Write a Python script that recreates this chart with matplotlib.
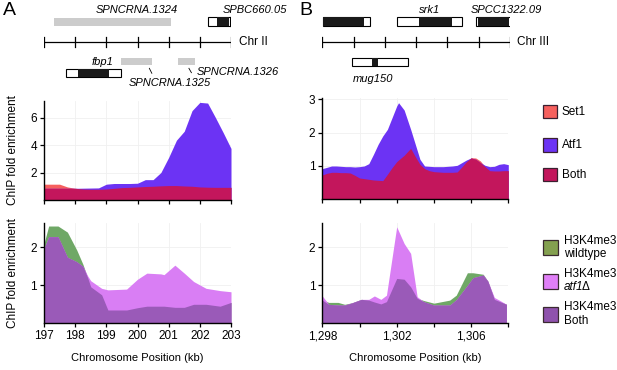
import numpy as np
import matplotlib.pyplot as plt
from matplotlib.patches import Rectangle

plt.rcParams['font.family'] = ['Liberation Sans', 'DejaVu Sans']
plt.rcParams['font.size'] = 8

# ---- datos: panel A (Chr II, kb) ----
xa_top = [197.0, 197.25, 197.5, 197.75, 198.0, 198.25, 198.5, 198.75, 199.0, 199.25,
          199.5, 199.75, 200.0, 200.25, 200.5, 200.75, 201.0, 201.25, 201.5, 201.75,
          202.0, 202.25, 202.5, 202.75, 203.0]
a_set1 = [1.15, 1.15, 1.15, 0.95, 0.85, 0.8, 0.78, 0.78, 0.8, 0.85,
          0.9, 0.92, 0.95, 0.98, 1.0, 1.03, 1.05, 1.05, 1.02, 1.0,
          0.95, 0.93, 0.92, 0.92, 0.92]
a_atf1 = [0.85, 0.85, 0.85, 0.85, 0.85, 0.86, 0.87, 0.88, 1.15, 1.2,
          1.2, 1.2, 1.22, 1.48, 1.48, 2.0, 3.1, 4.35, 5.0, 6.5,
          7.1, 7.05, 6.0, 4.9, 3.75]

xa_bot = [197.0, 197.15, 197.45, 197.75, 198.05, 198.25, 198.4, 198.5, 198.85, 199.05,
          199.65, 200.0, 200.3, 200.75, 200.85, 201.2, 201.5, 201.8, 202.2, 202.65, 203.0]
a_wt = [2.1, 2.56, 2.56, 2.4, 1.93, 1.55, 1.2, 0.96, 0.75, 0.35,
        0.35, 0.41, 0.45, 0.45, 0.45, 0.42, 0.42, 0.5, 0.5, 0.45, 0.55]
a_atf1d = [1.97, 2.28, 2.28, 1.74, 1.62, 1.5, 1.25, 1.12, 0.92, 0.88,
           0.9, 1.16, 1.32, 1.3, 1.28, 1.53, 1.32, 1.1, 0.92, 0.86, 0.83]

# ---- datos: panel B (Chr III, kb) ----
xb_top = [1298.0, 1298.25, 1298.5, 1298.75, 1299.0, 1299.25, 1299.5, 1299.75, 1300.0, 1300.25,
          1300.5, 1300.75, 1301.0, 1301.25, 1301.5, 1301.75, 1302.0, 1302.1, 1302.4, 1302.75,
          1303.0, 1303.25, 1303.5, 1303.75, 1304.0, 1304.5, 1305.0, 1305.25, 1305.5, 1305.75,
          1306.0, 1306.25, 1306.5, 1306.75, 1307.0, 1307.25, 1307.5, 1307.75, 1308.0]
b_set1 = [0.73, 0.78, 0.81, 0.81, 0.8, 0.8, 0.79, 0.72, 0.64, 0.62,
          0.6, 0.58, 0.57, 0.56, 0.75, 0.95, 1.13, 1.18, 1.32, 1.53,
          1.28, 1.05, 0.92, 0.86, 0.83, 0.81, 0.81, 0.82, 0.97, 1.13,
          1.25, 1.24, 1.15, 0.98, 0.86, 0.85, 0.85, 0.86, 0.86]
b_atf1 = [0.92, 0.96, 1.0, 1.0, 0.99, 0.98, 0.98, 0.97, 0.98, 1.0,
          1.07, 1.35, 1.65, 1.9, 2.1, 2.45, 2.8, 2.9, 2.68, 2.1,
          1.65, 1.2, 1.0, 0.99, 0.98, 0.98, 1.0, 1.02, 1.1, 1.18,
          1.24, 1.2, 1.1, 1.02, 0.98, 0.99, 1.05, 1.07, 1.04]

xb_bot = [1298.0, 1298.35, 1298.85, 1299.2, 1299.6, 1300.1, 1300.5, 1300.8, 1301.15, 1301.45,
          1302.0, 1302.4, 1302.75, 1303.1, 1303.45, 1304.0, 1304.85, 1305.2, 1305.8, 1306.1,
          1306.65, 1306.9, 1307.25, 1307.55, 1307.9]
b_wt = [0.61, 0.55, 0.55, 0.5, 0.54, 0.63, 0.61, 0.56, 0.51, 0.57,
        1.18, 1.16, 0.96, 0.66, 0.6, 0.53, 0.61, 0.74, 1.33, 1.33,
        1.29, 1.11, 0.63, 0.57, 0.5]
b_atf1d = [0.72, 0.5, 0.48, 0.48, 0.54, 0.63, 0.63, 0.72, 0.63, 0.74,
           2.54, 2.1, 1.84, 0.7, 0.57, 0.48, 0.48, 0.62, 1.0, 1.2,
           1.27, 1.11, 0.68, 0.6, 0.5]

# ---- genes (inicio, fin, inicio CDS, fin CDS) ----
a_gray_top = (197.33, 201.06)              # SPNCRNA.1324
a_spbc = (202.26, 203.03, 202.55, 202.93)
a_fbp1 = (197.71, 199.46, 198.08, 199.09)
a_ncrna_1325 = (199.46, 200.46)
a_ncrna_1326 = (201.29, 201.84)
b_gene1 = (0.03, 1.53, 0.03, 1.32)
b_srk1 = (2.38, 4.47, 3.09, 4.14)
b_spcc = (4.90, 6.06, 4.98, 5.98)
b_mug150 = (0.94, 2.75, 1.60, 1.78)

c_set1, c_atf1, c_both = '#f6605e', '#6c33f4', '#c3165c'
c_wt, c_atf1d, c_both2 = '#6fa866', '#d97ef4', '#9a5ab8'

W, H = 617, 370
fig = plt.figure(figsize=(W / 100, H / 100), dpi=100)

def caja(l, t, r, b):
    return [l / W, 1 - b / H, (r - l) / W, (b - t) / H]

def estilo(ax, xlim, ylim, yt, xt, xtl=None):
    ax.set_xlim(*xlim)
    ax.set_ylim(*ylim)
    for s in ['top', 'right']:
        ax.spines[s].set_visible(False)
    for s in ['left', 'bottom']:
        ax.spines[s].set_linewidth(1.0)
    ax.set_yticks(yt)
    ax.set_xticks(xt)
    if xtl is None:
        ax.set_xticklabels([])
    else:
        ax.set_xticklabels(xtl)
    ax.tick_params(direction='out', length=3, width=0.9, labelsize=8.5, pad=2)
    ax.grid(color='#f0f0f0', lw=0.6)
    ax.set_axisbelow(True)

def areas(ax, x, s1, s2, c1, c2, c3):
    x = np.array(x)
    s1 = np.array(s1)
    s2 = np.array(s2)
    ax.fill_between(x, 0, s1, color=c1, lw=0)
    ax.fill_between(x, 0, s2, color=c2, lw=0)
    ax.fill_between(x, 0, np.minimum(s1, s2), color=c3, lw=0)

# A arriba
ax1 = fig.add_axes(caja(44, 101, 231, 200))
areas(ax1, xa_top, a_set1, a_atf1, c_set1, c_atf1, c_both)
estilo(ax1, (197, 203), (0, 7.2), [2, 4, 6], range(197, 204))

# A abajo
ax2 = fig.add_axes(caja(44, 222.6, 231, 323.3))
areas(ax2, xa_bot, a_wt, a_atf1d, c_wt, c_atf1d, c_both2)
estilo(ax2, (197, 203), (0, 2.65), [1, 2], range(197, 204), [str(v) for v in range(197, 204)])

# B arriba
ax3 = fig.add_axes(caja(322.3, 97.7, 508.3, 199.3))
areas(ax3, xb_top, b_set1, b_atf1, c_set1, c_atf1, c_both)
estilo(ax3, (1298, 1307.9), (0, 3.05), [1, 2, 3], range(1298, 1309, 2))

# B abajo
ax4 = fig.add_axes(caja(322.3, 222.6, 508.3, 323.3))
areas(ax4, xb_bot, b_wt, b_atf1d, c_wt, c_atf1d, c_both2)
estilo(ax4, (1298, 1307.9), (0, 2.65), [1, 2], range(1298, 1309, 2),
       ['1,298', '', '1,302', '', '1,306', ''])

for ax in [ax2, ax4]:
    ax.set_xlabel('Chromosome Position (kb)', fontsize=8, labelpad=8)

fig.text(13.5 / W, 1 - 150 / H, 'ChIP fold enrichment', rotation=90, ha='center', va='center', fontsize=8.5)
fig.text(13.5 / W, 1 - 273 / H, 'ChIP fold enrichment', rotation=90, ha='center', va='center', fontsize=8.5)
fig.text(3 / W, 1 - 2 / H, 'A', fontsize=14, va='top')
fig.text(299 / W, 1 - 2 / H, 'B', fontsize=14, va='top')

# ---- diagramas de genes ----
def gen(ax, g, y, h):
    ax.add_patch(Rectangle((g[0], y - h / 2), g[1] - g[0], h, fc='white', ec='black', lw=0.8))
    ax.add_patch(Rectangle((g[2], y - h / 2), g[3] - g[2], h, fc='#1a1a1a', ec='none'))

def cromosoma(ax, x0, x1, nombre, xt):
    ax.plot([x0, x1], [42, 42], color='black', lw=0.9)
    for v in np.linspace(x0, x1, 7):
        ax.plot([v, v], [37, 47], color='black', lw=0.9)
    ax.text(xt, 42, nombre, ha='left', va='center', fontsize=8.5)

ga = fig.add_axes(caja(44, 0, 231, 90))
ga.set_xlim(197, 203)
ga.set_ylim(90, 0)
ga.axis('off')
cromosoma(ga, 197, 203, 'Chr II', 203.25)
ga.add_patch(Rectangle((a_gray_top[0], 18.3), a_gray_top[1] - a_gray_top[0], 7.4, fc='#cccccc', ec='none'))
ga.text(199.98, 10, 'SPNCRNA.1324', style='italic', ha='center', va='center', fontsize=8)
gen(ga, a_spbc, 21.5, 8.4)
ga.plot([202.98, 202.98], [17.3, 25.7], color='black', lw=0.8)
ga.text(202.73, 10, 'SPBC660.05', style='italic', ha='left', va='center', fontsize=8)
gen(ga, a_fbp1, 73.2, 8.3)
ga.text(198.89, 62, 'fbp1', style='italic', ha='center', va='center', fontsize=8)
for g in [a_ncrna_1325, a_ncrna_1326]:
    ga.add_patch(Rectangle((g[0], 58.3), g[1] - g[0], 6.7, fc='#cccccc', ec='none'))
ga.plot([200.38, 200.46], [68.3, 73.3], color='black', lw=0.6)
ga.plot([201.65, 201.73], [68.3, 72.7], color='black', lw=0.6)
ga.text(201.03, 82.7, 'SPNCRNA.1325', style='italic', ha='center', va='center', fontsize=8)
ga.text(201.91, 71.7, 'SPNCRNA.1326', style='italic', ha='left', va='center', fontsize=8)

gb = fig.add_axes(caja(322.3, 0, 510, 90))
gb.set_xlim(0, 6)
gb.set_ylim(90, 0)
gb.axis('off')
cromosoma(gb, 0, 6, 'Chr III', 6.21)
gen(gb, b_gene1, 21.5, 8.4)
gen(gb, b_srk1, 21.5, 8.4)
gen(gb, b_spcc, 21.5, 8.4)
gb.plot([6.0, 6.0], [17.3, 25.7], color='white', lw=0.6)
gb.text(3.44, 10, 'srk1', style='italic', ha='center', va='center', fontsize=8)
gb.text(5.90, 10, 'SPCC1322.09', style='italic', ha='center', va='center', fontsize=8)
gen(gb, b_mug150, 61.7, 8.0)
gb.text(1.63, 79.3, 'mug150', style='italic', ha='center', va='center', fontsize=8)

# ---- leyendas ----
lg = fig.add_axes([0, 0, 1, 1])
lg.set_xlim(0, W)
lg.set_ylim(H, 0)
lg.axis('off')
ley_top = [('Set1', c_set1, 111.7), ('Atf1', c_atf1, 145), ('Both', c_both, 174.5)]
for nombre, c, y in ley_top:
    lg.add_patch(Rectangle((542.5, y - 6.7), 14, 13.4, fc=c, ec='#3a2030', lw=0.9))
    lg.text(562, y, nombre, ha='left', va='center', fontsize=8.5)

ley_bot = [('wildtype', '#84a050', 247.5), (None, '#e07ff7', 281), ('Both', '#8f52ad', 314.5)]
for nombre, c, y in ley_bot:
    lg.add_patch(Rectangle((542.5, y - 7.5), 15, 15, fc=c, ec='#3a2a30', lw=0.9))
    lg.text(564, y - 7, 'H3K4me3', ha='left', va='center', fontsize=8.5)
    if nombre is None:
        t = lg.text(564, y + 5.5, 'atf1', style='italic', ha='left', va='center', fontsize=8.5)
        lg.annotate('\u0394', xy=(1, 0.5), xycoords=t, xytext=(-1, 0), textcoords='offset points',
                    ha='left', va='center', fontsize=8.5)
    else:
        lg.text(564, y + 6.5, nombre, ha='left', va='center', fontsize=8.5)

fig.savefig('out.png', dpi=100)
